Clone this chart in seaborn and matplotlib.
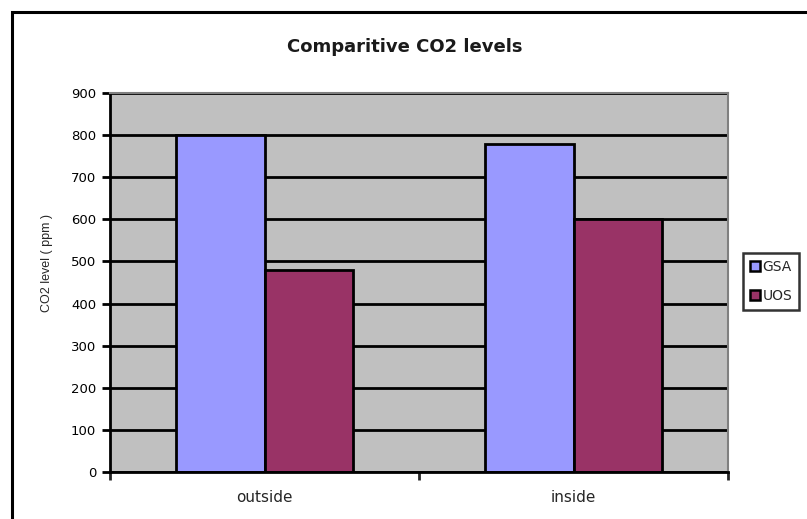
import matplotlib
matplotlib.use("Agg")
import matplotlib.pyplot as plt
from matplotlib.patches import Rectangle, Patch
import seaborn as sns
import pandas as pd

locations = ["outside", "inside"]
series = ["GSA", "UOS"]
gsa_values = [800, 780]
uos_values = [480, 600]
y_ticks = [0, 100, 200, 300, 400, 500, 600, 700, 800, 900]
palette = {"GSA": "#9999FF", "UOS": "#993366"}

df = pd.DataFrame({
    "location": locations * 2,
    "series": ["GSA"] * 2 + ["UOS"] * 2,
    "co2": gsa_values + uos_values,
})

sns.set_style("white")
plt.rcParams["font.family"] = ["DejaVu Sans"]

W, H = 807, 519
fig = plt.figure(figsize=(W / 100, H / 100), dpi=100)
ax = fig.add_axes([110 / W, 1 - 472 / H, (728 - 110) / W, (472 - 93) / H])

# outer chart frame
fig.patches.append(Rectangle((12 / W, -0.1), 1.2, 1 - 12 / H + 0.1,
                             transform=fig.transFigure, fill=False,
                             edgecolor="black", linewidth=2.2, zorder=0))

ax.set_facecolor("#C0C0C0")
ax.set_axisbelow(True)
ax.yaxis.grid(True, color="black", linewidth=2)

sns.barplot(data=df, x="location", y="co2", hue="series", order=locations,
            hue_order=series, palette=palette, width=0.57, gap=0,
            edgecolor="black", linewidth=2, saturation=1, ax=ax, legend=False)

ax.set_xlim(-0.5, 1.5)
ax.set_ylim(0, 900)
ax.set_yticks(y_ticks)
ax.tick_params(axis="y", direction="out", length=6, width=2, labelsize=9.5,
               left=True, pad=4, colors="black")
ax.set_xticks([-0.5, 0.5, 1.5])
ax.set_xticklabels([])
ax.tick_params(axis="x", which="major", direction="out", length=6, width=2,
               bottom=True)
ax.set_xticks([0, 1], minor=True)
ax.set_xticklabels(locations, minor=True)
ax.tick_params(axis="x", which="minor", length=0, labelsize=11, pad=13)

ax.set_xlabel("")
ax.set_ylabel("CO2 level ( ppm )", fontsize=9, family="Liberation Sans")
ax.yaxis.set_label_coords((53 - 110) / (728 - 110), 1 - (263 - 93) / (472 - 93))

for side in ["left", "bottom"]:
    ax.spines[side].set_color("black")
    ax.spines[side].set_linewidth(2)
for side in ["top", "right"]:
    ax.spines[side].set_color("#808080")
    ax.spines[side].set_linewidth(1.5)

fig.text(405 / W, 1 - 47 / H, "Comparitive CO2 levels", ha="center",
         va="center", fontsize=13, fontweight="bold", color="#1a1a1a")

handles = [Patch(facecolor=palette[s], edgecolor="black", linewidth=1.8,
                 label=s) for s in series]
leg = fig.legend(handles=handles, loc="upper left",
                 bbox_to_anchor=(743 / W, 1 - 253 / H), frameon=True,
                 fancybox=False, fontsize=10, handlelength=0.75,
                 handleheight=0.75, handletextpad=0.15, borderpad=0.5,
                 labelspacing=1.1, borderaxespad=0)
leg.get_frame().set_edgecolor("black")
leg.get_frame().set_linewidth(1.8)

fig.savefig("out.png", dpi=100)
